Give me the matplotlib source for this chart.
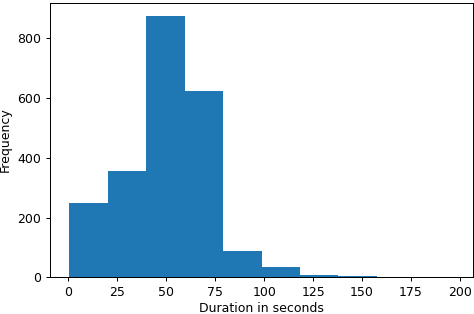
import matplotlib
matplotlib.use("Agg")
import matplotlib.pyplot as plt
import numpy as np

# histogram: 10 bins between min and max duration
DURATION_MIN = 0.5
DURATION_MAX = 196.8
COUNTS = [249, 355, 875, 623, 88, 33, 7, 3, 2, 1]
XTICKS = [0, 25, 50, 75, 100, 125, 150, 175, 200]
YTICKS = [0, 200, 400, 600, 800]

DPI = 90


def main() -> None:
    edges = np.linspace(DURATION_MIN, DURATION_MAX, len(COUNTS) + 1)

    fig = plt.figure(figsize=(474 / DPI, 314 / DPI), dpi=DPI)
    ax = fig.add_axes([50 / 474, 36.7 / 314, 423 / 474, 274.6 / 314])
    ax.hist(edges[:-1], bins=edges, weights=COUNTS, color="#1f77b4")

    ax.set_xticks(XTICKS)
    ax.set_yticks(YTICKS)
    ax.set_xlabel("Duration in seconds", labelpad=2.5)
    ax.set_ylabel("Frequency")

    fig.savefig("out.png", dpi=DPI)
    plt.close(fig)


if __name__ == "__main__":
    main()
